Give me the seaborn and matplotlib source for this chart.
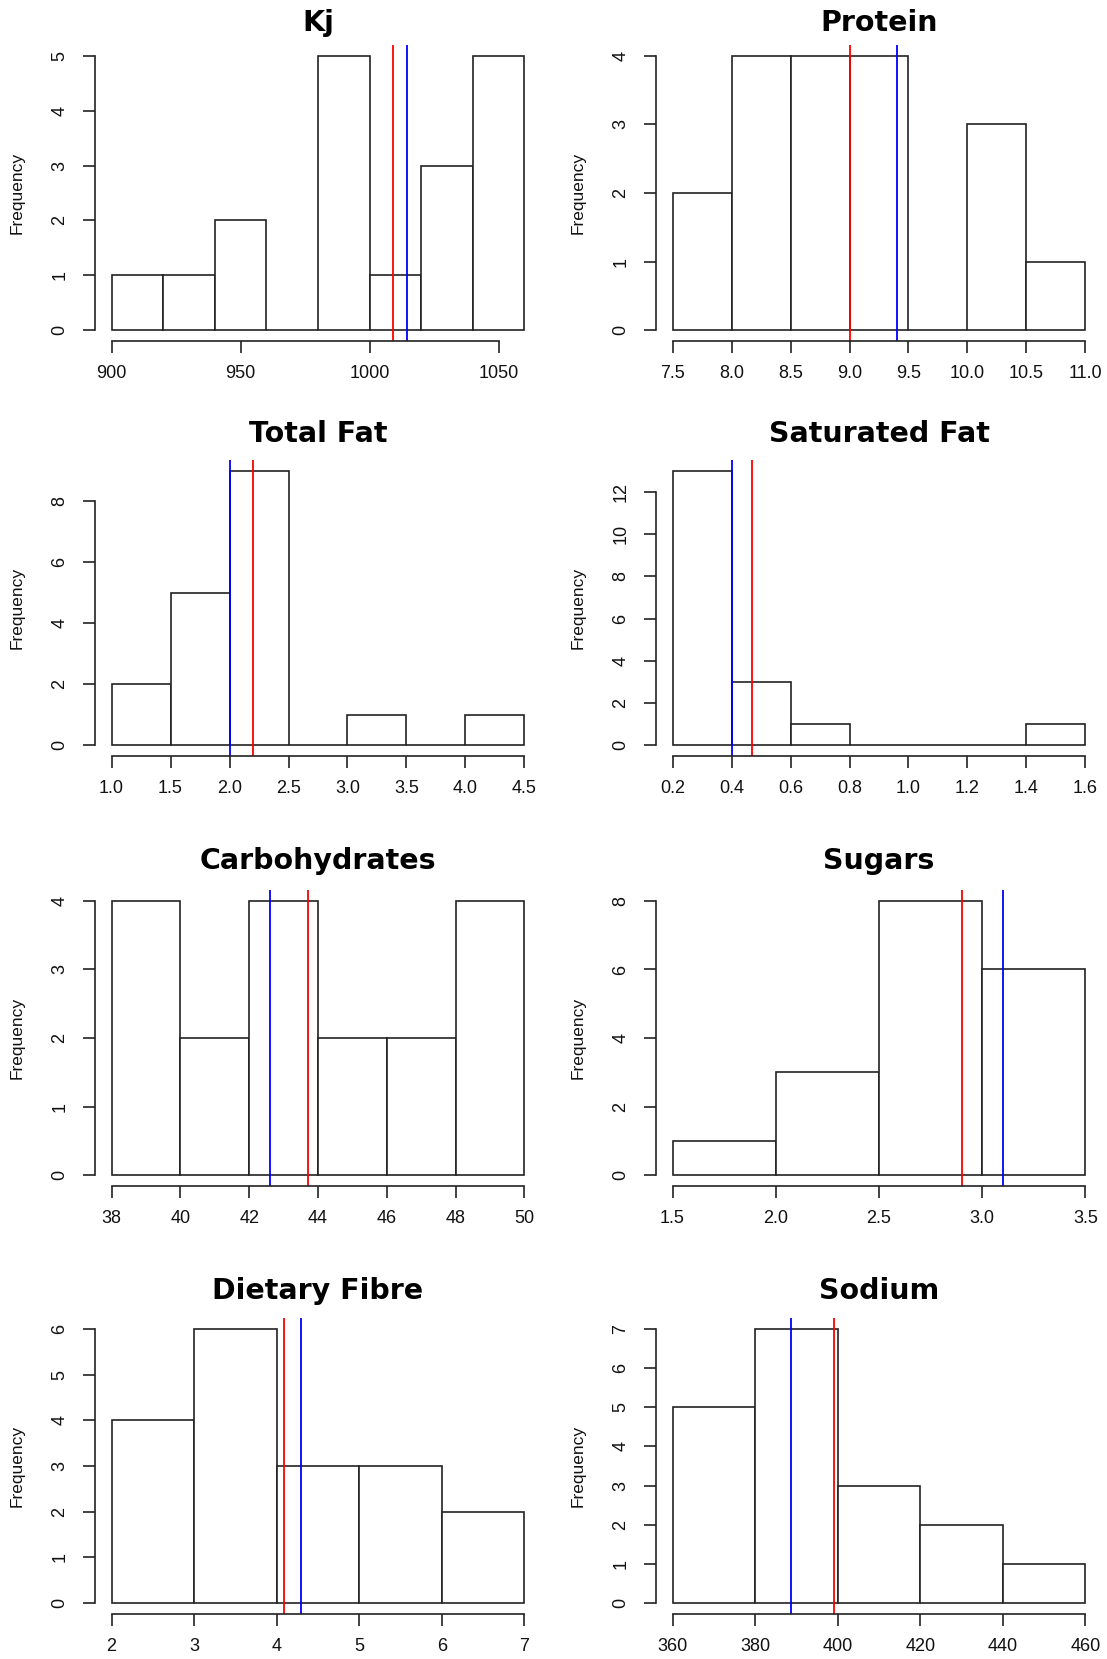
import matplotlib
matplotlib.use("Agg")
import matplotlib.pyplot as plt
import numpy as np
import pandas as pd
import seaborn as sns

sns.set_theme(style="ticks")
plt.rcParams["font.family"] = ["Liberation Sans", "DejaVu Sans"]

# histogram data
kj_edges = [900, 920, 940, 960, 980, 1000, 1020, 1040, 1060]
kj_counts = [1, 1, 2, 0, 5, 1, 3, 5]
kj_xlabels = ["900", "950", "1000", "1050"]
kj_ylabels = ["0", "1", "2", "3", "4", "5"]
kj_red, kj_blue = 1009, 1014.5

protein_edges = [7.5, 8.0, 8.5, 9.0, 9.5, 10.0, 10.5, 11.0]
protein_counts = [2, 4, 4, 4, 0, 3, 1]
protein_xlabels = ["7.5", "8.0", "8.5", "9.0", "9.5", "10.0", "10.5", "11.0"]
protein_ylabels = ["0", "1", "2", "3", "4"]
protein_red, protein_blue = 9.0, 9.4

fat_edges = [1.0, 1.5, 2.0, 2.5, 3.0, 3.5, 4.0, 4.5]
fat_counts = [2, 5, 9, 0, 1, 0, 1]
fat_xlabels = ["1.0", "1.5", "2.0", "2.5", "3.0", "3.5", "4.0", "4.5"]
fat_ylabels = ["0", "2", "4", "6", "8"]
fat_red, fat_blue = 2.2, 2.0

satfat_edges = [0.2, 0.4, 0.6, 0.8, 1.0, 1.2, 1.4, 1.6]
satfat_counts = [13, 3, 1, 0, 0, 0, 1]
satfat_xlabels = ["0.2", "0.4", "0.6", "0.8", "1.0", "1.2", "1.4", "1.6"]
satfat_ylabels = ["0", "2", "4", "6", "8", "10", "12"]
satfat_red, satfat_blue = 0.47, 0.40

carb_edges = [38, 40, 42, 44, 46, 48, 50]
carb_counts = [4, 2, 4, 2, 2, 4]
carb_xlabels = ["38", "40", "42", "44", "46", "48", "50"]
carb_ylabels = ["0", "1", "2", "3", "4"]
carb_red, carb_blue = 43.7, 42.6

sugar_edges = [1.5, 2.0, 2.5, 3.0, 3.5]
sugar_counts = [1, 3, 8, 6]
sugar_xlabels = ["1.5", "2.0", "2.5", "3.0", "3.5"]
sugar_ylabels = ["0", "2", "4", "6", "8"]
sugar_red, sugar_blue = 2.9, 3.1

fibre_edges = [2, 3, 4, 5, 6, 7]
fibre_counts = [4, 6, 3, 3, 2]
fibre_xlabels = ["2", "3", "4", "5", "6", "7"]
fibre_ylabels = ["0", "1", "2", "3", "4", "5", "6"]
fibre_red, fibre_blue = 4.09, 4.3

sodium_edges = [360, 380, 400, 420, 440, 460]
sodium_counts = [5, 7, 3, 2, 1]
sodium_xlabels = ["360", "380", "400", "420", "440", "460"]
sodium_ylabels = ["0", "1", "2", "3", "4", "5", "6", "7"]
sodium_red, sodium_blue = 399, 388.7

panels = [
    ("Kj", kj_edges, kj_counts, kj_xlabels, kj_ylabels, kj_red, kj_blue),
    ("Protein", protein_edges, protein_counts, protein_xlabels, protein_ylabels, protein_red, protein_blue),
    ("Total Fat", fat_edges, fat_counts, fat_xlabels, fat_ylabels, fat_red, fat_blue),
    ("Saturated Fat", satfat_edges, satfat_counts, satfat_xlabels, satfat_ylabels, satfat_red, satfat_blue),
    ("Carbohydrates", carb_edges, carb_counts, carb_xlabels, carb_ylabels, carb_red, carb_blue),
    ("Sugars", sugar_edges, sugar_counts, sugar_xlabels, sugar_ylabels, sugar_red, sugar_blue),
    ("Dietary Fibre", fibre_edges, fibre_counts, fibre_xlabels, fibre_ylabels, fibre_red, fibre_blue),
    ("Sodium", sodium_edges, sodium_counts, sodium_xlabels, sodium_ylabels, sodium_red, sodium_blue),
]

W, H = 1107, 1659
fig = plt.figure(figsize=(W / 100, H / 100), dpi=100)
fig.patch.set_facecolor("white")

col_x = [(95, 446), (656, 446)]
row_top = [45, 460, 890, 1318]
title_pad = [10, 13, 15, 14]
panel_h = 296

for i, (title, edges, counts, xlabels, ylabels, red, blue) in enumerate(panels):
    x0, w = col_x[i % 2]
    top = row_top[i // 2]
    ax = fig.add_axes([x0 / W, 1 - (top + panel_h) / H, w / W, panel_h / H])
    ax.set_facecolor("white")

    e = np.array(edges, dtype=float)
    df = pd.DataFrame({"value": (e[:-1] + e[1:]) / 2, "count": counts})
    sns.histplot(data=df, x="value", weights="count", bins=list(edges), ax=ax,
                 color="white", edgecolor="#222222", linewidth=1.2, alpha=1)

    ax.axvline(red, color="#ff0000", lw=1.3)
    ax.axvline(blue, color="#0000ff", lw=1.3)

    xticks = [float(s) for s in xlabels]
    yticks = [float(s) for s in ylabels]
    span = e[-1] - e[0]
    ax.set_xlim(e[0] - 0.04 * span, e[-1] + 0.04 * span)
    ymax = max(counts)
    ax.set_ylim(-0.04 * ymax, 1.04 * ymax)

    ax.set_xticks(xticks)
    ax.set_xticklabels(xlabels)
    ax.set_yticks(yticks)
    ax.set_yticklabels(ylabels)

    for side in ["top", "right"]:
        ax.spines[side].set_visible(False)
    ax.spines["left"].set_bounds(yticks[0], yticks[-1])
    ax.spines["bottom"].set_bounds(xticks[0], xticks[-1])
    for side in ["left", "bottom"]:
        ax.spines[side].set_color("#222222")
        ax.spines[side].set_linewidth(1.2)

    ax.tick_params(axis="both", length=8.5, width=1.2, color="#222222",
                   labelsize=13, labelcolor="#111111")
    ax.tick_params(axis="x", pad=9)
    ax.tick_params(axis="y", pad=10.5, labelrotation=90)
    for lab in ax.get_yticklabels():
        lab.set_va("center")

    ax.set_xlabel("")
    ax.set_ylabel("Frequency", fontsize=12.5, color="#111111")
    ax.yaxis.set_label_coords(-0.157, 0.5)
    ax.set_title(title, fontsize=20.5, fontweight="bold", family="DejaVu Sans",
                 color="black", pad=title_pad[i // 2])

fig.savefig("out.png", dpi=100, facecolor="white")
